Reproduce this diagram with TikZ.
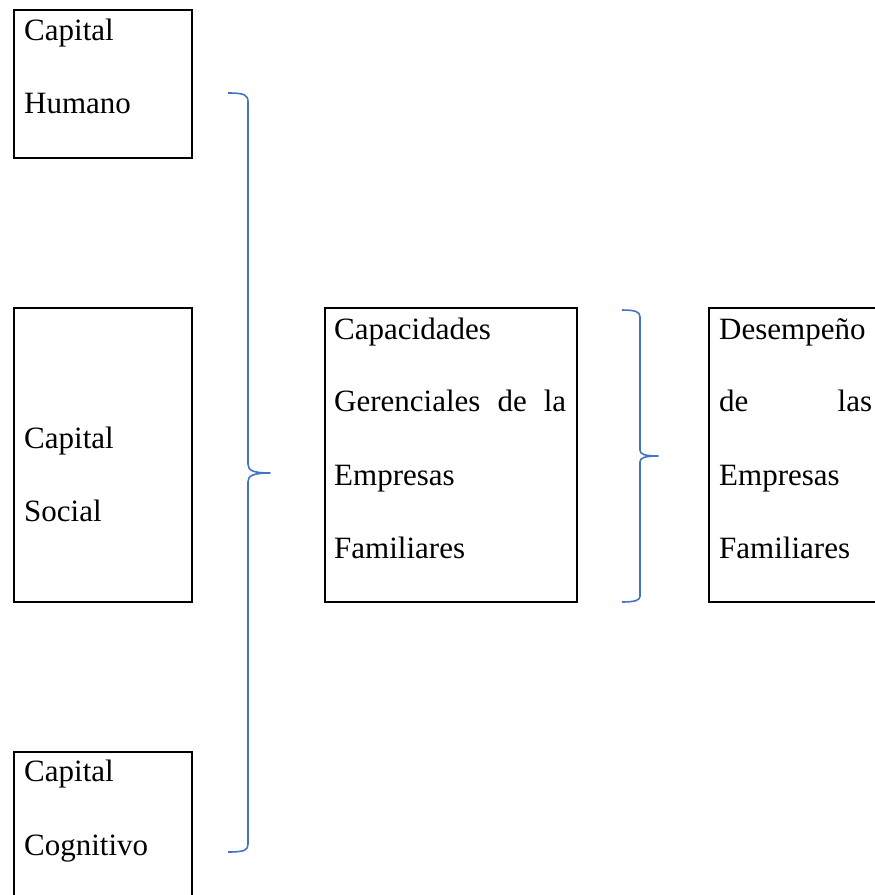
\documentclass[tikz,border=0pt]{standalone}
\usepackage{fontspec}
\setmainfont{Liberation Serif}
\definecolor{bracecol}{RGB}{68,114,196}
\tikzset{
  box/.style={draw=black, line width=2pt, inner sep=0},
  txt/.style={anchor=base west, inner sep=0, font=\fontsize{31}{31}\selectfont},
  bracepath/.style={draw=bracecol, line width=1.6pt, line join=round}
}
\begin{document}
\begin{tikzpicture}[x=1pt,y=-1pt]
\useasboundingbox (0,0) rectangle (875,895);
\clip (0,0) rectangle (875,895);
% boxes
\draw[box] (14,10) rectangle (192,158);
\draw[box] (14,308) rectangle (192,602);
\draw[box] (14,752) rectangle (192,910);
\draw[box] (325,308) rectangle (577,602);
\draw[box] (709,308) rectangle (895,602);
% texts
\node[txt] (h1) at (24,40) {Capital};
\node[txt] (h2) at (24,113) {Humano};
\node[txt] (s1) at (24,448) {Capital};
\node[txt] (s2) at (24,521) {Social};
\node[txt] (c1) at (24,781) {Capital};
\node[txt] (c2) at (24,855) {Cognitivo};
\node[txt] (g1) at (334,339) {Capacidades};
\node[txt] (g2) at (334,411) {\makebox[232pt][s]{Gerenciales de la}};
\node[txt] (g3) at (334,485) {Empresas};
\node[txt] (g4) at (334,558) {Familiares};
\node[txt] (d1) at (719,339) {Desempeño};
\node[txt] (d2) at (719,411) {\makebox[153pt][s]{de las}};
\node[txt] (d3) at (719,485) {Empresas};
\node[txt] (d4) at (719,558) {Familiares};
% brace 1
\coordinate (b1t) at (228,93);
\coordinate (b1m) at (270,473);
\coordinate (b1b) at (228,852);
\draw[bracepath] (b1t) .. controls (245,93) and (248,95) .. (248,102)
  -- (248,464) .. controls (248,470) and (252,473) .. (b1m)
  .. controls (252,473) and (248,476) .. (248,482)
  -- (248,844) .. controls (248,850) and (245,852) .. (b1b);
% brace 2
\coordinate (b2t) at (622,310);
\coordinate (b2m) at (658,456);
\coordinate (b2b) at (622,602);
\draw[bracepath] (b2t) .. controls (636,310) and (640,312) .. (640,317)
  -- (640,450) .. controls (640,454) and (644,456) .. (b2m)
  .. controls (644,456) and (640,458) .. (640,462)
  -- (640,596) .. controls (640,600) and (636,602) .. (b2b);
\end{tikzpicture}
\end{document}
